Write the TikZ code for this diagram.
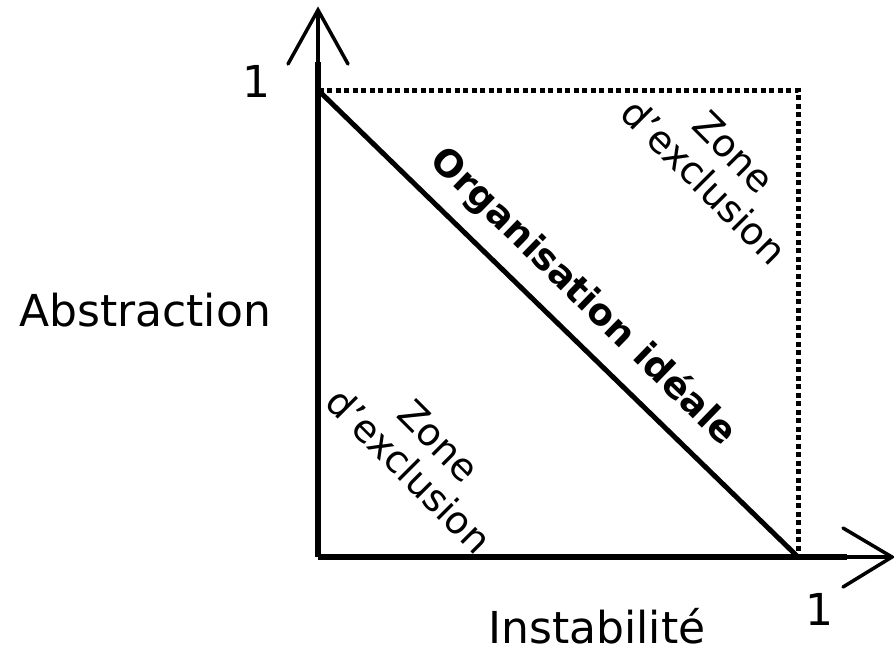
\documentclass[tikz,border=0pt]{standalone}
\usepackage{fontspec}
\setmainfont{DejaVu Sans}
\begin{document}
\begin{tikzpicture}[x=1pt,y=-1pt,
  axis/.style={line width=6.5pt},
  axistip/.style={line width=3.5pt},
  arrowhead/.style={line width=3.5pt,line cap=round,line join=miter},
  dotline/.style={line width=5pt,dash pattern=on 5pt off 3.5pt},
  ideal/.style={line width=5pt},
  biglabel/.style={inner sep=0pt,font=\fontsize{44}{52}\selectfont},
  zonelabel/.style={inner sep=0pt,align=center,rotate=-45,font=\fontsize{38}{42}\selectfont},
  ideallabel/.style={inner sep=0pt,rotate=-44.2,font=\fontsize{37}{44}\selectfont\bfseries}]
\useasboundingbox (0,0) rectangle (894,651);
\coordinate (O) at (318,557);
\coordinate (Ytop) at (318,90);
\coordinate (Xend) at (798,557);
\coordinate (C) at (798,90);
\coordinate (Ythick) at (318,62);
\coordinate (Ytip) at (318,10);
\coordinate (YL) at (288,64);
\coordinate (YR) at (348,64);
\coordinate (Xthick) at (847,557);
\coordinate (Xtip) at (892,557);
\coordinate (XU) at (843,528);
\coordinate (XD) at (843,587);
% dotted square
\draw[dotline] (O) -- (Ytop) -- (C) -- (Xend) -- cycle;
% axes
\draw[axis] (O) -- (Ythick);
\draw[axistip] (Ythick) -- (Ytip);
\draw[arrowhead] (YL) -- (Ytip) -- (YR);
\draw[axis] (O) -- (Xthick);
\draw[axistip] (Xthick) -- (Xtip);
\draw[arrowhead] (XU) -- (Xtip) -- (XD);
% ideal line
\draw[ideal] (Ytop) -- (Xend);
% labels
\node[biglabel,anchor=base] (abs) at (145,326) {Abstraction};
\node[biglabel,anchor=base] (inst) at (597,643) {Instabilité};
\node[biglabel,anchor=base] (one1) at (256,97) {1};
\node[biglabel,anchor=base] (one2) at (819,625) {1};
\node[zonelabel] (z1) at (719,167) {Zone\\d’exclusion};
\node[zonelabel] (z2) at (424,456) {Zone\\d’exclusion};
\node[ideallabel] (ideal) at (583,297) {Organisation idéale};
\end{tikzpicture}
\end{document}
